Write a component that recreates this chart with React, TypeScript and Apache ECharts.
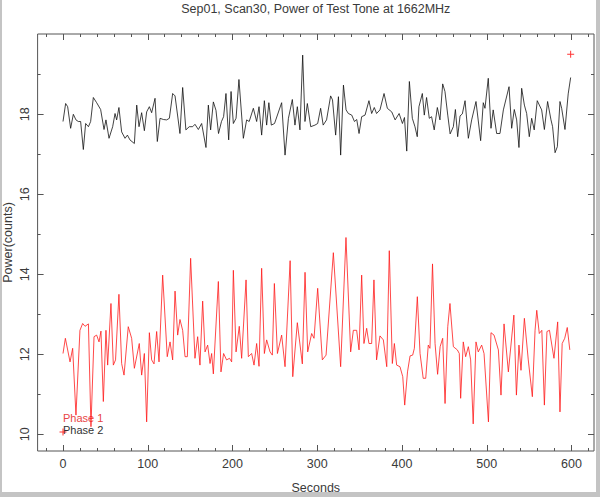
import React, { useEffect, useRef } from "react";
import * as echarts from "echarts";

// ---- data ----
const phase1X = [0, 2.8, 8.3, 11.4, 15.3, 20, 23.2, 26, 30, 33, 36.6, 39.7, 42.5, 44.8, 47.6, 50.7, 52.7, 56.6, 59.4, 62, 66, 69.2, 72, 77, 81, 84.2, 90, 92.8, 96, 98.7, 101.9, 104.6, 107.4, 110.5, 113.3, 117.6, 123, 126.3, 129.4, 132.2, 135.3, 138, 141.2, 144, 146.7, 150.6, 155.7, 158.9, 161.6, 164.8, 167.6, 170.7, 173.5, 175.4, 177.4, 183.3, 186.4, 189.5, 193, 196.5, 199, 201, 204.2, 208, 210.8, 216, 218.7, 222.6, 225.4, 228.5, 231.3, 234.4, 237.6, 240.3, 244.3, 247, 249.4, 253, 258, 262, 268, 271.1, 276.5, 282.4, 285.6, 288.7, 293.4, 296.2, 300.5, 306, 310.4, 319, 327.6, 333.9, 339.4, 342.6, 346.5, 349.3, 352.4, 355.1, 358.3, 361, 364.2, 366.9, 370, 374, 378, 382, 385, 388.6, 391, 393.7, 397.6, 400.9, 403.2, 406.5, 409.5, 412.6, 414.6, 418.1, 421.3, 425, 428, 431, 433, 436, 439, 442, 445, 448, 450.8, 454, 456.6, 460.6, 465.3, 467.6, 469.2, 472.3, 475.1, 478.3, 481, 484, 487.3, 490, 494, 496.8, 502, 505, 508.6, 513.7, 516.8, 520.4, 525.5, 532, 535, 538, 540.4, 544.4, 549, 553.8, 557, 559, 562, 565, 568, 571, 574, 579.3, 583.7, 586.4, 589, 592, 595, 598];
const phase1Y = [12.02, 12.4, 11.81, 12.15, 10.48, 12.6, 12.77, 12.7, 12.76, 10.19, 12.44, 12.48, 12.31, 12.58, 10.82, 12.6, 11.73, 13.27, 11.73, 11.86, 13.5, 11.77, 11.48, 12.69, 12.4, 11.65, 12.27, 11.48, 12.02, 10.31, 12.54, 11.86, 11.76, 12.57, 11.81, 13.98, 11.94, 12.31, 11.86, 13.58, 12.48, 12.87, 12.6, 11.94, 11.94, 14.4, 11.9, 12.44, 11.73, 13.33, 12.06, 12.23, 11.77, 12.02, 11.51, 13.82, 11.56, 12.02, 11.86, 11.9, 11.81, 14.1, 12.06, 12.7, 11.9, 13.86, 11.94, 12.02, 11.73, 12.27, 11.7, 14.15, 12.02, 12.36, 12.06, 11.98, 13.77, 12.02, 12.48, 11.69, 14.34, 11.44, 12.79, 11.76, 14.05, 12.06, 12.52, 12.4, 13.65, 11.86, 11.98, 14.54, 11.69, 14.92, 12.06, 12.6, 12.6, 12.11, 13.98, 12.27, 12.65, 12.27, 12.27, 13.86, 11.86, 12.46, 12.36, 11.69, 14.59, 11.77, 12.27, 11.73, 11.69, 11.44, 10.73, 11.56, 11.96, 11.98, 12.15, 13.44, 12.02, 11.4, 11.4, 12.23, 12.15, 14.26, 12.27, 11.5, 12.19, 12.4, 10.77, 12.69, 13.27, 12.19, 12.11, 12.02, 10.9, 12.31, 11.94, 12.19, 11.86, 10.26, 12.31, 12.06, 12.23, 12.02, 10.31, 12.54, 12.48, 12.11, 10.98, 12.76, 11.56, 12.98, 10.98, 12.23, 11.6, 12.9, 11.86, 10.94, 12.6, 13.1, 12.52, 12.6, 10.73, 12.57, 12.6, 11.9, 12.81, 10.56, 12.27, 12.4, 12.67, 12.11];

const phase2X = [0, 3.1, 5.5, 9, 12.2, 15.3, 18.1, 20.8, 24, 26.7, 30, 32.6, 35.8, 39.7, 44.4, 48.4, 50.7, 54.3, 58.6, 61.4, 63.3, 66, 69.2, 73.2, 76, 79, 84.2, 87, 89.7, 92.8, 96, 98.7, 101.9, 104.6, 108.6, 111.3, 114.5, 118.4, 122.3, 125.5, 129.4, 132.2, 138, 141.2, 145, 149, 153, 155.7, 159.7, 163.6, 168.7, 171.5, 174.2, 177.4, 180.5, 183.5, 187, 189.5, 192.3, 195.5, 198.3, 201, 204.2, 207.6, 212.8, 216.7, 219.7, 224.6, 228.5, 231.3, 234.4, 237.6, 240.3, 242.9, 245.8, 249.6, 258, 262, 266, 270.6, 273.7, 276.5, 279.6, 282.8, 285.5, 288.3, 292.3, 297.3, 300.5, 304, 307, 311, 315.8, 318, 321.7, 325, 327.6, 330.9, 334, 336.7, 340.7, 343.9, 346.6, 349.3, 352.4, 356.4, 361, 364.2, 367.3, 370, 374, 378.8, 382.7, 387.9, 391.9, 396.6, 400.5, 402.9, 405.6, 408.7, 412.2, 415.3, 418, 420, 424, 426.3, 429, 432.2, 434.9, 438, 441.7, 444.8, 448, 450.7, 454, 456.8, 460.6, 463, 465.7, 468.5, 471.2, 474.4, 478.3, 482.2, 487.3, 492.8, 495.9, 497.9, 501.8, 505, 507.6, 511.7, 515.6, 519.6, 526.3, 529.4, 532.5, 535.3, 538, 541.2, 544.4, 547.1, 550.2, 553, 556, 559.6, 564.8, 568, 571.8, 575.8, 577.7, 580.6, 583.3, 586.4, 588.4, 592.3, 596.1, 599];
const phase2Y = [17.82, 18.27, 18.19, 17.65, 18.0, 17.86, 17.82, 17.82, 17.12, 17.77, 17.69, 17.82, 18.42, 18.29, 18.12, 17.62, 17.86, 17.4, 17.69, 18.02, 17.86, 18.17, 17.56, 17.4, 17.48, 17.36, 17.27, 18.23, 17.69, 18.04, 17.59, 18.06, 18.19, 18.04, 18.4, 17.32, 17.9, 17.87, 17.86, 17.9, 18.52, 18.46, 17.52, 18.67, 17.61, 17.69, 17.69, 17.75, 17.62, 17.77, 17.17, 18.23, 17.61, 18.31, 18.1, 17.52, 17.82, 17.94, 18.52, 17.36, 18.57, 17.77, 17.9, 18.87, 17.4, 17.86, 17.82, 18.15, 17.82, 18.19, 17.48, 18.34, 17.73, 18.29, 17.73, 17.77, 18.29, 16.98, 17.9, 18.37, 17.73, 18.19, 17.61, 19.48, 17.82, 18.27, 17.69, 17.73, 17.77, 18.15, 17.73, 17.86, 18.46, 18.36, 17.48, 18.44, 16.98, 18.73, 18.11, 18.02, 17.98, 17.82, 17.87, 17.52, 17.94, 17.98, 18.34, 18.02, 18.17, 18.02, 18.11, 18.52, 18.15, 18.06, 17.86, 18.02, 17.77, 17.92, 17.08, 18.82, 17.9, 17.69, 17.44, 18.19, 18.52, 17.98, 18.42, 17.9, 17.94, 17.61, 18.17, 17.86, 18.76, 18.57, 17.98, 17.51, 17.69, 18.12, 17.44, 17.96, 18.01, 18.34, 17.4, 17.86, 18.32, 17.34, 18.29, 18.15, 18.9, 17.65, 18.11, 17.52, 17.52, 18.11, 18.69, 17.65, 18.12, 17.86, 17.17, 18.65, 18.23, 18.02, 17.44, 17.9, 17.61, 18.34, 18.11, 17.62, 18.32, 17.86, 17.69, 17.04, 17.19, 18.32, 18.15, 17.62, 18.51, 18.92];

const markerX = [0, 599];
const markerY = [10.06, 19.5];

const xTickMin = 0, xTickMax = 600, xTickStep = 100, xMinorStep = 20, xMinorMin = -20, xMinorMax = 620;
const yTickMin = 10, yTickMax = 18, yTickStep = 2, yMinorStep = 1, yMinorMax = 19;

const TITLE = "Sep01, Scan30, Power of Test Tone at 1662MHz";
const XLABEL = "Seconds";
const YLABEL = "Power(counts)";
const LEG1 = "Phase 1";
const LEG2 = "Phase 2";

// ---- layout ----
const W = 600, H = 497;
const PX0 = 63, PXS = 0.8475;   // px of x=0, px per second
const PY10 = 434.3, PYS = 40;   // px of y=10, px per count
const L = 37.6, R = 594, T = 34, B = 451;
const px = (v: number) => PX0 + v * PXS;
const py = (v: number) => PY10 - (v - 10) * PYS;
const xMin = (L - PX0) / PXS, xMax = (R - PX0) / PXS;
const yMin = 10 - (B - PY10) / PYS, yMax = 10 + (PY10 - T) / PYS;

const FONT = '"Liberation Sans", Arial, sans-serif';
const AX = "#555";
const TXT = "#3a3a3a";

function zip(a: number[], b: number[]) {
  return a.map((v, i) => [v, b[i]]);
}

export default function App() {
  const ref = useRef<HTMLDivElement>(null);
  useEffect(() => {
    if (!ref.current) return;
    const chart = echarts.init(ref.current, null, { renderer: "svg" });
    const hiddenX = (grid: number) => ({ type: "value", gridIndex: grid, min: 0, max: 1, show: false });
    const hiddenY = (grid: number) => ({ type: "value", gridIndex: grid, min: 0, max: 1, show: false });
    const tickAxis = (grid: number, position: string, min: number, max: number, interval: number, len: number, labels: boolean, rotate = 0) => ({
      type: "value",
      gridIndex: grid,
      position,
      min,
      max,
      interval,
      axisLine: { show: false },
      splitLine: { show: false },
      axisTick: { show: true, inside: true, length: len, lineStyle: { color: AX, width: 1 } },
      axisLabel: {
        show: labels,
        rotate,
        margin: 6,
        color: TXT,
        fontFamily: FONT,
        fontSize: 12.5,
      },
    });
    const gridBase = { outerBoundsMode: "none", containLabel: false };
    chart.setOption({
      animation: false,
      backgroundColor: "#fff",
      grid: [
        { ...gridBase, left: L, right: W - R, top: T, bottom: H - B, show: true, borderColor: AX, borderWidth: 1, backgroundColor: "transparent" },
        { ...gridBase, left: px(xMinorMin), right: W - px(xMinorMax), top: T, bottom: H - B },
        { ...gridBase, left: px(xTickMin), right: W - px(xTickMax), top: T, bottom: H - B },
        { ...gridBase, left: L, right: W - R, top: py(yMinorMax), bottom: H - py(yTickMin) },
        { ...gridBase, left: L, right: W - R, top: py(yTickMax), bottom: H - py(yTickMin) },
      ],
      xAxis: [
        { type: "value", gridIndex: 0, min: xMin, max: xMax, show: false },
        tickAxis(1, "bottom", xMinorMin, xMinorMax, xMinorStep, 3, false),
        tickAxis(1, "top", xMinorMin, xMinorMax, xMinorStep, 3, false),
        tickAxis(2, "bottom", xTickMin, xTickMax, xTickStep, 6, true),
        tickAxis(2, "top", xTickMin, xTickMax, xTickStep, 6, false),
        hiddenX(3),
        hiddenX(4),
      ],
      yAxis: [
        { type: "value", gridIndex: 0, min: yMin, max: yMax, show: false },
        hiddenY(1),
        hiddenY(2),
        tickAxis(3, "left", yTickMin, yMinorMax, yMinorStep, 3, false),
        tickAxis(3, "right", yTickMin, yMinorMax, yMinorStep, 3, false),
        tickAxis(4, "left", yTickMin, yTickMax, yTickStep, 6, true, 90),
        tickAxis(4, "right", yTickMin, yTickMax, yTickStep, 6, false),
      ],
      series: [
        {
          type: "line",
          name: LEG2,
          xAxisIndex: 0,
          yAxisIndex: 0,
          data: zip(phase2X, phase2Y),
          showSymbol: false,
          symbol: "none",
          lineStyle: { color: "#111", width: 0.8 },
        },
        {
          type: "line",
          name: LEG1,
          xAxisIndex: 0,
          yAxisIndex: 0,
          data: zip(phase1X, phase1Y),
          showSymbol: false,
          symbol: "none",
          lineStyle: { color: "#ff1a1a", width: 0.8 },
        },
        {
          type: "scatter",
          xAxisIndex: 0,
          yAxisIndex: 0,
          data: zip(markerX, markerY),
          symbol: "path://M3,0h1v7h-1zM0,3h7v1h-7z",
          symbolSize: 7,
          itemStyle: { color: "#ff0000" },
        },
      ],
      graphic: [
        { type: "rect", shape: { x: 0, y: 0, width: 2, height: H }, style: { fill: "#c4c4c4" }, silent: true },
        { type: "rect", shape: { x: 596, y: 0, width: 4, height: H }, style: { fill: "#c4c4c4" }, silent: true },
        { type: "rect", shape: { x: 0, y: 492, width: W, height: 5 }, style: { fill: "#c4c4c4" }, silent: true },
        {
          type: "text",
          x: (L + R) / 2,
          y: 9,
          style: { text: TITLE, fill: TXT, font: `12.5px ${FONT}`, align: "center", verticalAlign: "middle" },
        },
        {
          type: "text",
          x: (L + R) / 2,
          y: 488,
          style: { text: XLABEL, fill: TXT, font: `12.5px ${FONT}`, align: "center", verticalAlign: "middle" },
        },
        {
          type: "text",
          x: 8,
          y: (T + B) / 2,
          rotation: Math.PI / 2,
          style: { text: YLABEL, fill: TXT, font: `12.5px ${FONT}`, align: "center", verticalAlign: "middle" },
        },
        {
          type: "text",
          x: 63,
          y: 418,
          style: { text: LEG1, fill: "#e84545", font: `11px ${FONT}`, align: "left", verticalAlign: "middle" },
        },
        {
          type: "text",
          x: 63,
          y: 429.5,
          style: { text: LEG2, fill: "#333", font: `11px ${FONT}`, align: "left", verticalAlign: "middle" },
        },
      ],
    });
    return () => chart.dispose();
  }, []);
  return <div ref={ref} style={{ position: "fixed", left: 0, top: 0, width: W, height: H }} />;
}
